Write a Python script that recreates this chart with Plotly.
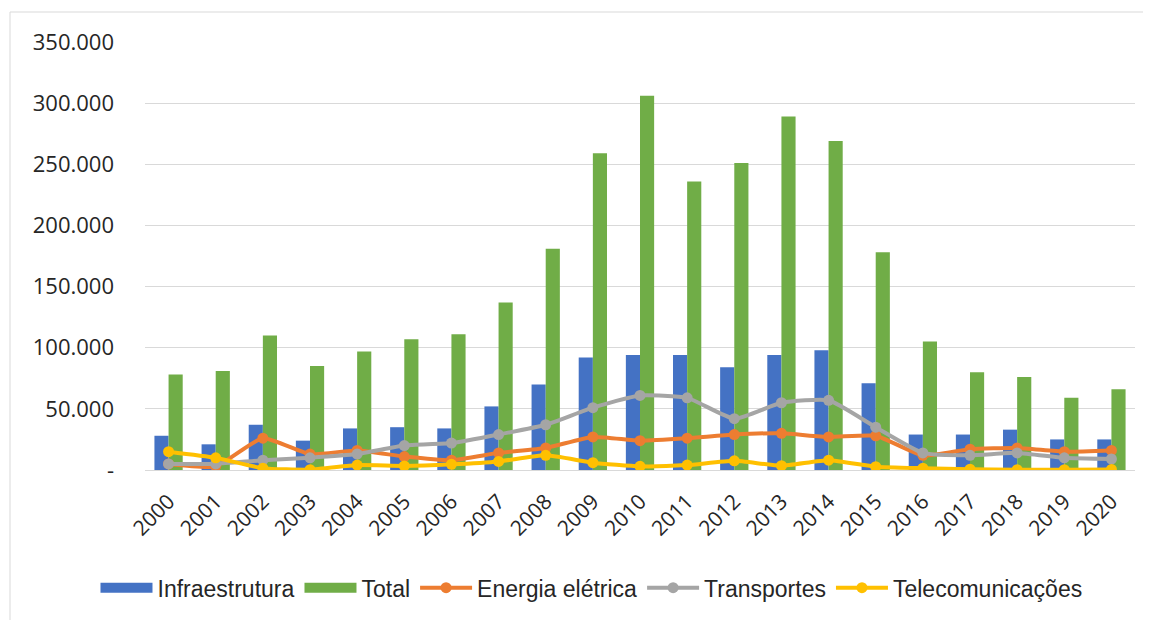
import plotly.graph_objects as go

years = [str(y) for y in range(2000, 2021)]
infraestrutura = [28, 21, 37, 24, 34, 35, 34, 52, 70, 92, 94, 94, 84, 94, 98, 71, 29, 29, 33, 25, 25]
total = [78, 81, 110, 85, 97, 107, 111, 137, 181, 259, 306, 236, 251, 289, 269, 178, 105, 80, 76, 59, 66]
energia = [5, 3, 26, 13, 16, 11, 8, 14, 18, 27, 24, 26, 29, 30, 27, 28, 12, 17, 18, 15, 16]
transportes = [5, 5, 8, 10, 13, 20, 22, 29, 37, 51, 61, 59, 42, 55, 57, 35, 14, 12, 14, 10, 9]
telecom = [15, 10, 1.5, 0.3, 4, 3.3, 4.6, 7, 12, 6, 3, 4, 7.5, 3.5, 8, 2.7, 1.5, 0.7, 0.3, 0.3, 0.5]

scale = 1000
tick_vals = [0, 50, 100, 150, 200, 250, 300, 350]
tick_text = ["-", "50.000", "100.000", "150.000", "200.000", "250.000", "300.000", "350.000"]

BLUE, GREEN, ORANGE, GRAY, YELLOW = "#4472C4", "#70AD47", "#ED7D31", "#A5A5A5", "#FFC000"

fig = go.Figure()
fig.add_bar(x=years, y=[v * scale for v in infraestrutura], name="Infraestrutura",
            marker_color=BLUE, showlegend=False, legendgroup="inf")
fig.add_bar(x=years, y=[v * scale for v in total], name="Total",
            marker_color=GREEN, showlegend=False, legendgroup="tot")
# legend-only entries drawn as wide rectangles for the bar series
fig.add_scatter(x=[years[0]], y=[None], name="Infraestrutura", mode="lines",
                line=dict(color=BLUE, width=11), legendgroup="inf")
fig.add_scatter(x=[years[0]], y=[None], name="Total", mode="lines",
                line=dict(color=GREEN, width=11), legendgroup="tot")
for name, vals, col in [("Energia elétrica", energia, ORANGE),
                        ("Transportes", transportes, GRAY),
                        ("Telecomunicações", telecom, YELLOW)]:
    fig.add_scatter(x=years, y=[v * scale for v in vals], name=name, mode="lines+markers",
                    line=dict(color=col, width=4, shape="spline", smoothing=0.5),
                    marker=dict(color=col, size=11))

# page body adds an 8px offset; margins compensate so the plot area sits at x 145-1135, y 42-470
fig.update_layout(
    template="none",
    width=1151, height=620,
    margin=dict(l=137, r=24, t=34, b=158, autoexpand=False),
    paper_bgcolor="white", plot_bgcolor="white",
    barmode="group", bargap=0.4, bargroupgap=0,
    font=dict(family="Open Sans, DejaVu Sans, sans-serif", color="#404040"),
    legend=dict(orientation="h", x=0.451, xanchor="center", y=-0.275, yanchor="middle",
                font=dict(family="Liberation Sans, Arial, sans-serif", size=23, color="#262626"),
                itemwidth=52, traceorder="normal", bgcolor="rgba(0,0,0,0)"),
    showlegend=True,
)
fig.update_xaxes(type="category", range=[-0.5, len(years) - 0.5], tickmode="array", tickvals=years, ticktext=years,
                 tickangle=-45, tickfont=dict(size=21, family="Open Sans, sans-serif", color="#262626"),
                 showgrid=False, showline=False, ticks="", automargin=False, ticklabelstandoff=14)
fig.update_yaxes(range=[0, 350 * scale], tickvals=[v * scale for v in tick_vals], ticktext=tick_text,
                 gridcolor="#D9D9D9", gridwidth=1, zeroline=True, zerolinecolor="#D9D9D9", zerolinewidth=1,
                 tickfont=dict(size=22, color="#262626"), ticks="", ticklabelstandoff=30, automargin=False)
fig.add_shape(type="rect", xref="paper", yref="paper",
              x0=-135 / 990, x1=1 + 40 / 990, y0=-170 / 428, y1=1 + 30 / 428,
              line=dict(color="#D9D9D9", width=1))
fig.write_html("out.html")
